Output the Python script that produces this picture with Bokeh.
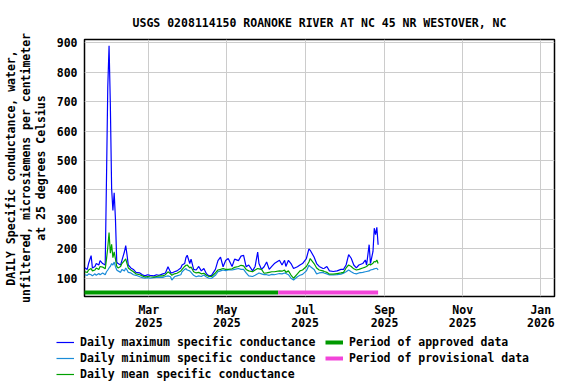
from datetime import datetime
import pandas as pd
from bokeh.plotting import figure
from bokeh.layouts import column
from bokeh.models import Range1d, FixedTicker, DatetimeTickFormatter, Legend, LegendItem
from bokeh.embed import file_html
from bokeh.resources import INLINE

# ---------------- data ----------------
dates = [
    "2025-01-10", "2025-01-12", "2025-01-13", "2025-01-15", "2025-01-16", "2025-01-18",
    "2025-01-19", "2025-01-21", "2025-01-22", "2025-01-24", "2025-01-26", "2025-01-27",
    "2025-01-28", "2025-01-29", "2025-01-30", "2025-01-31", "2025-02-01", "2025-02-02",
    "2025-02-03", "2025-02-04", "2025-02-05", "2025-02-07", "2025-02-08", "2025-02-10",
    "2025-02-11", "2025-02-12", "2025-02-13", "2025-02-15", "2025-02-17", "2025-02-19",
    "2025-02-22", "2025-02-24", "2025-02-26", "2025-02-28", "2025-03-02", "2025-03-05",
    "2025-03-07", "2025-03-09", "2025-03-12", "2025-03-14", "2025-03-16", "2025-03-18",
    "2025-03-19", "2025-03-21", "2025-03-23", "2025-03-26", "2025-03-27", "2025-03-29",
    "2025-03-30", "2025-03-31", "2025-04-02", "2025-04-03", "2025-04-05", "2025-04-07",
    "2025-04-09", "2025-04-11", "2025-04-13", "2025-04-15", "2025-04-17", "2025-04-19",
    "2025-04-22", "2025-04-24", "2025-04-26", "2025-04-28", "2025-04-30", "2025-05-02",
    "2025-05-05", "2025-05-07", "2025-05-10", "2025-05-12", "2025-05-14", "2025-05-16",
    "2025-05-18", "2025-05-21", "2025-05-23", "2025-05-25", "2025-05-26", "2025-05-28",
    "2025-05-30", "2025-06-01", "2025-06-03", "2025-06-05", "2025-06-07", "2025-06-11",
    "2025-06-13", "2025-06-15", "2025-06-16", "2025-06-18", "2025-06-20", "2025-06-22",
    "2025-06-25", "2025-06-27", "2025-06-29", "2025-07-02", "2025-07-04", "2025-07-05",
    "2025-07-08", "2025-07-10", "2025-07-12", "2025-07-15", "2025-07-16", "2025-07-18",
    "2025-07-20", "2025-07-23", "2025-07-26", "2025-07-29", "2025-07-31", "2025-08-02",
    "2025-08-04", "2025-08-06", "2025-08-08", "2025-08-10", "2025-08-12", "2025-08-15",
    "2025-08-17", "2025-08-18", "2025-08-20", "2025-08-21", "2025-08-23", "2025-08-24",
    "2025-08-25", "2025-08-26", "2025-08-27",
]
max_vals = [
    136, 130, 150, 177, 135, 140, 150, 145, 160, 150, 145, 440,
    750, 890, 690, 405, 330, 390, 300, 155, 150, 145, 160, 190,
    211, 180, 145, 135, 130, 120, 118, 112, 108, 112, 110, 108,
    112, 110, 115, 118, 139, 120, 118, 122, 125, 135, 145, 150,
    170, 178, 150, 165, 130, 128, 140, 125, 133, 115, 108, 110,
    130, 160, 172, 139, 160, 167, 140, 165, 160, 175, 178, 139,
    145, 125, 140, 189, 150, 130, 139, 155, 130, 140, 150, 161,
    145, 161, 140, 161, 150, 133, 139, 145, 150, 167, 200, 195,
    172, 150, 140, 133, 134, 140, 125, 123, 125, 130, 130, 145,
    180, 168, 145, 135, 145, 150, 162, 145, 214, 150, 191, 270,
    248, 273, 214,
]
mean_vals = [
    122, 120, 128, 133, 125, 128, 135, 130, 140, 138, 132, 165,
    205, 255, 185, 215, 170, 190, 165, 140, 135, 140, 150, 160,
    166, 150, 135, 128, 122, 115, 112, 108, 104, 106, 105, 104,
    106, 108, 108, 112, 122, 115, 110, 115, 117, 125, 130, 140,
    144, 145, 135, 138, 122, 118, 120, 115, 117, 110, 106, 106,
    118, 128, 130, 133, 130, 130, 132, 137, 140, 144, 142, 130,
    125, 122, 128, 133, 132, 130, 117, 118, 120, 122, 122, 125,
    124, 128, 120, 125, 111, 100, 115, 125, 128, 140, 155, 167,
    150, 135, 128, 125, 123, 120, 114, 114, 116, 118, 120, 135,
    145, 140, 132, 128, 130, 135, 138, 140, 148, 145, 151, 157,
    155, 162, 150,
]
min_vals = [
    112, 110, 115, 112, 108, 115, 110, 116, 112, 118, 112, 122,
    128, 135, 140, 150, 145, 155, 140, 128, 125, 120, 130, 125,
    135, 128, 120, 118, 112, 110, 105, 102, 100, 102, 100, 102,
    103, 104, 103, 106, 108, 105, 94, 105, 108, 112, 122, 130,
    133, 128, 125, 120, 110, 105, 108, 106, 111, 104, 100, 100,
    110, 122, 125, 128, 126, 128, 128, 130, 133, 130, 130, 118,
    108, 106, 110, 115, 118, 115, 112, 112, 110, 113, 112, 116,
    115, 118, 116, 112, 100, 94, 105, 110, 113, 125, 144, 140,
    130, 115, 118, 120, 117, 115, 111, 111, 112, 114, 117, 122,
    128, 122, 117, 115, 118, 120, 122, 123, 125, 128, 130, 132,
    133, 134, 128,
]
approved_period = ["2025-01-09", "2025-06-10"]
provisional_period = ["2025-06-10", "2025-08-27"]
tick_dates = ["2025-03-01", "2025-05-01", "2025-07-01", "2025-09-01", "2025-11-01", "2026-01-01"]
y_ticks = [100, 200, 300, 400, 500, 600, 700, 800, 900]

title_text = "USGS 0208114150 ROANOKE RIVER AT NC 45 NR WESTOVER, NC"
y_label = ("DAILY Specific conductance, water,\n"
           "unfiltered, microsiemens per centimeter\n"
           "at 25 degrees Celsius")
legend_labels = ["Daily maximum specific conductance",
                 "Daily minimum specific conductance",
                 "Daily mean specific conductance",
                 "Period of approved data",
                 "Period of provisional data"]

# ---------------- styling ----------------
FONT = "DejaVu Sans Mono"
FS = "11.5px"
C_MAX = "#0000FF"
C_MIN = "#1A8CD8"
C_MEAN = "#00A000"
C_APPR = "#009900"
C_PROV = "#F244D9"
BAR_LEVEL = 52

x = pd.to_datetime(dates)
appr_x = pd.to_datetime(approved_period)
prov_x = pd.to_datetime(provisional_period)

p = figure(frame_width=470, frame_height=257, x_axis_type="datetime",
           output_backend="svg", toolbar_location=None,
           x_range=Range1d(datetime(2025, 1, 9, 20), datetime(2026, 1, 11, 16)),
           y_range=Range1d(38, 911),
           min_border_left=84, min_border_right=6,
           min_border_top=39, min_border_bottom=10)
p.frame_align = False

p.background_fill_color = "white"
p.border_fill_color = "white"
p.outline_line_color = "black"
p.outline_line_width = 1.5

# title
p.title.text = title_text
p.title.align = "center"
p.title.text_font = FONT
p.title.text_font_size = FS
p.title.text_font_style = "bold"
p.title.text_color = "black"
p.title.standoff = 20

# ticks
tick_ms = [pd.Timestamp(d).value // 10**6 for d in tick_dates]
p.xaxis.ticker = FixedTicker(ticks=tick_ms)
p.xaxis.formatter = DatetimeTickFormatter(days="%b\n%Y", months="%b\n%Y", years="%b\n%Y",
                                          hours="%b\n%Y", minutes="%b\n%Y")
p.yaxis.ticker = FixedTicker(ticks=y_ticks)

for ax in (p.xaxis[0], p.yaxis[0]):
    ax.major_label_text_font = FONT
    ax.major_label_text_font_size = FS
    ax.major_label_text_font_style = "bold"
    ax.major_label_text_color = "black"
    ax.axis_line_color = None
    ax.major_tick_line_color = None
    ax.minor_tick_line_color = None
    ax.major_tick_out = 0
    ax.major_tick_in = 0
    ax.minor_tick_out = 0
    ax.minor_tick_in = 0

p.xaxis.major_label_standoff = 6
p.xaxis.major_label_text_line_height = 0.95
p.yaxis.major_label_standoff = 7

p.yaxis.axis_label = y_label
p.yaxis.axis_label_text_font = FONT
p.yaxis.axis_label_text_font_size = FS
p.yaxis.axis_label_text_font_style = "bold"
p.yaxis.axis_label_text_color = "black"
p.yaxis.axis_label_text_line_height = 1.06
p.yaxis.axis_label_standoff = 6

p.xgrid.grid_line_color = "#CCCCCC"
p.ygrid.grid_line_color = "#CCCCCC"
p.xgrid.grid_line_width = 1
p.ygrid.grid_line_width = 1

# series
r_max = p.line(x, max_vals, line_color=C_MAX, line_width=1.2)
r_min = p.line(x, min_vals, line_color=C_MIN, line_width=1.2)
r_mean = p.line(x, mean_vals, line_color=C_MEAN, line_width=1.2)
r_appr = p.line(appr_x, [BAR_LEVEL, BAR_LEVEL], line_color=C_APPR, line_width=4)
r_prov = p.line(prov_x, [BAR_LEVEL, BAR_LEVEL], line_color=C_PROV, line_width=4)

# ---------------- legend strip (separate figure below) ----------------
lg = figure(width=560, height=50, output_backend="svg", toolbar_location=None,
            x_axis_location=None, y_axis_location=None,
            x_range=Range1d(0, 1), y_range=Range1d(0, 1),
            min_border_left=0, min_border_right=0, min_border_top=0, min_border_bottom=0)
lg.frame_align = False
lg.grid.visible = False
lg.outline_line_color = None
lg.background_fill_color = "white"
lg.border_fill_color = "white"

# proxies share the same data (they lie outside this strip's 0..1 ranges, so only legend glyphs show)
proxies = [
    lg.line(x, max_vals, line_color=C_MAX, line_width=1.2),
    lg.line(x, min_vals, line_color=C_MIN, line_width=1.2),
    lg.line(x, mean_vals, line_color=C_MEAN, line_width=1.2),
    lg.line(appr_x, [BAR_LEVEL, BAR_LEVEL], line_color=C_APPR, line_width=4),
    lg.line(prov_x, [BAR_LEVEL, BAR_LEVEL], line_color=C_PROV, line_width=4),
]

legend = Legend(items=[LegendItem(label=l, renderers=[r]) for l, r in zip(legend_labels, proxies)],
                location=(56, 1), orientation="vertical", nrows=3)
legend.label_text_font = FONT
legend.label_text_font_size = FS
legend.label_text_font_style = "bold"
legend.label_text_color = "black"
legend.glyph_width = 18
legend.glyph_height = 12
legend.label_standoff = 6
legend.label_width = 243
legend.label_height = 12
legend.spacing = 2
legend.padding = 0
legend.margin = 0
legend.border_line_color = None
legend.background_fill_alpha = 0
lg.add_layout(legend, "center")

layout = column(p, lg, spacing=0)
open("out.html", "w").write(file_html(layout, INLINE))
